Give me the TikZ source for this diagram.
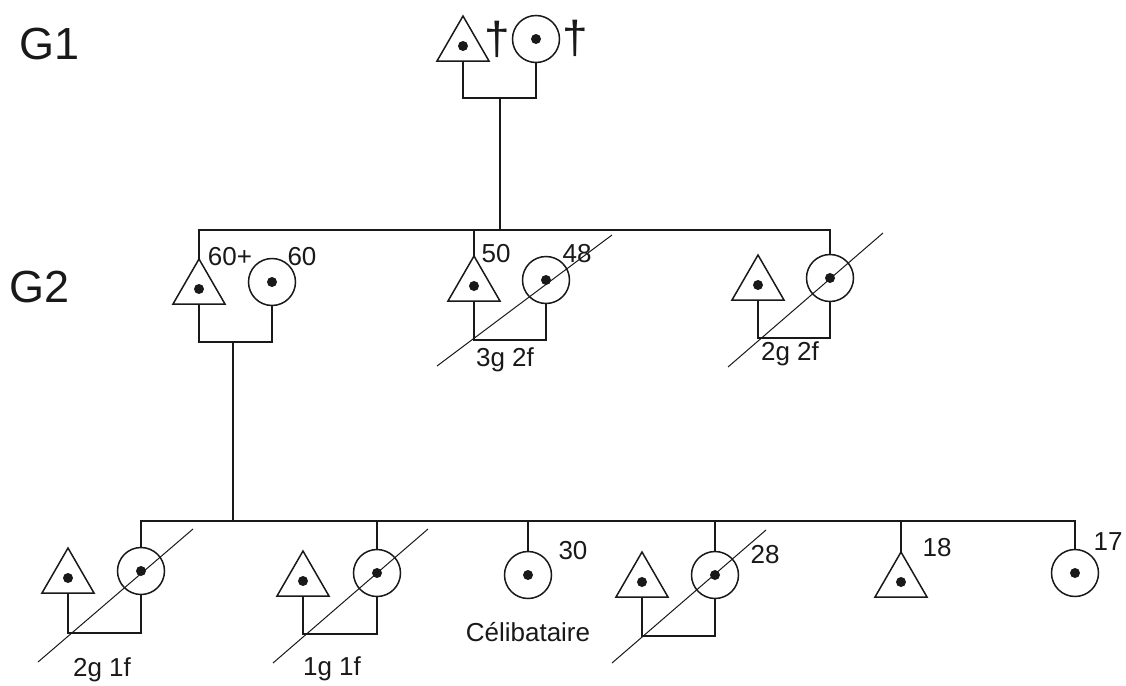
\documentclass[tikz,border=0pt]{standalone}
\usepackage{fontspec}
\setmainfont{Liberation Sans}
\usetikzlibrary{shapes.geometric}
\definecolor{trait}{RGB}{25,25,25}

\begin{document}
\begin{tikzpicture}[x=0.5pt, y=-0.5pt,
	homme/.style={draw=trait, regular polygon, regular polygon sides=3, minimum size=30pt, inner sep=0pt, outer sep=0pt, line width=0.75pt},
	femme/.style={draw=trait, circle, minimum size=23.5pt, inner sep=0pt, outer sep=0pt, line width=0.75pt},
	lien/.style={trait, line width=0.75pt},
	barre/.style={trait, line width=0.5pt},
	age/.style={trait, font=\fontsize{13}{13}\selectfont, inner sep=0pt},
	gen/.style={trait, font=\fontsize{22.5}{22.5}\selectfont, inner sep=0pt},
	deces/.style={trait, font=\fontsize{23}{23}\selectfont, inner sep=0pt}]

	\useasboundingbox (0,0) rectangle (1126,686);

	% GENERATIONS
	\node[gen] (g1) at (50,44) {G1};
	\node[gen] (g2) at (40,287) {G2};

	% G1 : PARENTS
	\node[homme] (f1) at (463,46) {};
	\node[femme] (m1) at (536,39) {};
	\node[deces] (d1) at (497,39) {†};
	\node[deces] (d2) at (575,38) {†};
	\coordinate (u1) at (500,98);
	\draw[lien] (f1.south) |- (u1) -| (m1.south);

	% G2 : ENFANTS
	\coordinate (s2) at (500,230);
	\node[homme] (f2a) at (199,289) {};
	\node[femme] (m2a) at (272,282) {};
	\node[homme] (f2b) at (474,286) {};
	\node[femme] (m2b) at (546,280) {};
	\node[homme] (f2c) at (758,285) {};
	\node[femme] (m2c) at (830,278) {};
	\draw[lien] (u1) -- (s2);
	\draw[lien] (f2a.north) |- (s2) -| (m2c.north);
	\draw[lien] (f2b.north) -- (f2b.north |- s2);

	\coordinate (u2a) at (233,342);
	\coordinate (u2b) at (510,340);
	\coordinate (u2c) at (794,338);
	\draw[lien] (f2a.south) |- (u2a) -| (m2a.south);
	\draw[lien] (f2b.south) |- (u2b) -| (m2b.south);
	\draw[lien] (f2c.south) |- (u2c) -| (m2c.south);
	\draw[barre] (437,366) -- (612,235);
	\draw[barre] (728,367) -- (883,233);

	\node[age] (a2a) at (230,257) {60+};
	\node[age] (a2b) at (302,257) {60};
	\node[age] (a2c) at (496,254) {50};
	\node[age] (a2d) at (577,254) {48};
	\node[age] (e2b) at (505,360) {3g 2f};
	\node[age] (e2c) at (790,354) {2g 2f};

	% G3 : PETITS-ENFANTS
	\coordinate (s3) at (233,521);
	\node[homme] (f3a) at (68,578) {};
	\node[femme] (m3a) at (141,571) {};
	\node[homme] (f3b) at (303,581) {};
	\node[femme] (m3b) at (377,573) {};
	\node[femme] (m3c) at (528,575) {};
	\node[homme] (f3d) at (642,582) {};
	\node[femme] (m3d) at (715,575) {};
	\node[homme] (f3e) at (901,582) {};
	\node[femme] (m3f) at (1075,573) {};
	\draw[lien] (u2a) -- (s3);
	\draw[lien] (m3a.north) |- (s3) -| (m3f.north);
	\foreach \n in {m3b,m3c,m3d,f3e}
		\draw[lien] (\n.north) -- (\n.north |- s3);

	\coordinate (u3a) at (105,633);
	\coordinate (u3b) at (340,634);
	\coordinate (u3d) at (678,636);
	\draw[lien] (f3a.south) |- (u3a) -| (m3a.south);
	\draw[lien] (f3b.south) |- (u3b) -| (m3b.south);
	\draw[lien] (f3d.south) |- (u3d) -| (m3d.south);
	\draw[barre] (38,662) -- (193,529);
	\draw[barre] (273,663) -- (428,529);
	\draw[barre] (612,663) -- (766,530);

	\node[age] (e3a) at (102,670) {2g 1f};
	\node[age] (e3b) at (332,669) {1g 1f};
	\node[age] (a3c) at (573,551) {30};
	\node[age] (c3c) at (528,632) {Célibataire};
	\node[age] (a3d) at (765,555) {28};
	\node[age] (a3e) at (937,548) {18};
	\node[age] (a3f) at (1108,542) {17};

	% POINTS
	\foreach \p in {f1,m1,f2a,m2a,f2b,m2b,f2c,m2c,f3a,m3a,f3b,m3b,m3c,f3d,m3d,f3e,m3f}
		\fill[trait] (\p) circle (2.5pt);

\end{tikzpicture}
\end{document}
